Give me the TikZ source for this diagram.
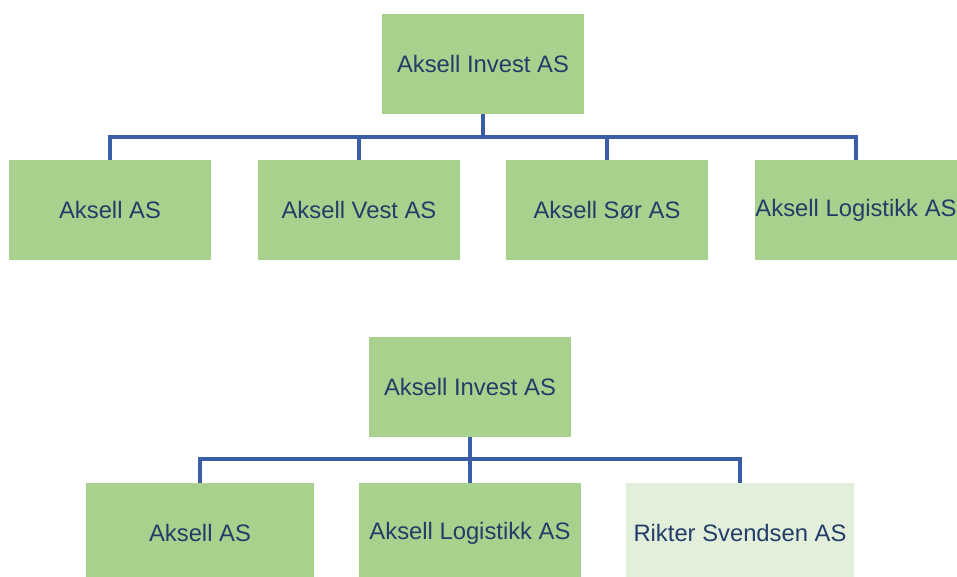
\documentclass[tikz,border=0pt]{standalone}
\usepackage{fontspec}
\setmainfont{Liberation Sans}
\definecolor{boxgreen}{HTML}{A9D18E}
\definecolor{boxlight}{HTML}{E2EFDA}
\definecolor{txtblue}{HTML}{233C68}
\definecolor{linkblue}{HTML}{3A5DA8}
\begin{document}
\begin{tikzpicture}[x=1pt,y=-1pt,
  orgbox/.style={rectangle, fill=boxgreen, inner sep=0pt, text=txtblue,
    font=\fontsize{23.8}{28}\selectfont},
  wide/.style={minimum width=202pt, minimum height=100pt},
  wider/.style={minimum width=228pt, minimum height=100pt},
  link/.style={draw=linkblue, line width=3.2pt}]
\useasboundingbox (0,0) rectangle (957,576);
% top chart
\node[orgbox,wide] (r1) at (483,64) {Aksell Invest AS};
\node[orgbox,wide] (a1) at (110,210) {Aksell AS};
\node[orgbox,wide] (b1) at (359,210) {Aksell Vest AS};
\node[orgbox,wide] (c1) at (607,210) {Aksell Sør AS};
\node[orgbox,wide] (d1) at (856,210) {Aksell Logistikk AS};
\coordinate (bus1) at (483,137);
\draw[link] (r1.south) -- (bus1);
\foreach \n in {a1,b1,c1,d1}
  \draw[link] (\n.north) |- (bus1);
% bottom chart
\node[orgbox,wide] (r2) at (470,387) {Aksell Invest AS};
\node[orgbox,wider] (a2) at (200,533) {Aksell AS};
\node[orgbox,minimum width=222pt,minimum height=100pt] (b2) at (470,533) {Aksell Logistikk AS};
\node[orgbox,wider,fill=boxlight] (c2) at (740,533) {Rikter Svendsen AS};
\coordinate (bus2) at (470,459);
\draw[link] (r2.south) -- (b2.north);
\foreach \n in {a2,c2}
  \draw[link] (\n.north) |- (bus2);
\end{tikzpicture}
\end{document}
